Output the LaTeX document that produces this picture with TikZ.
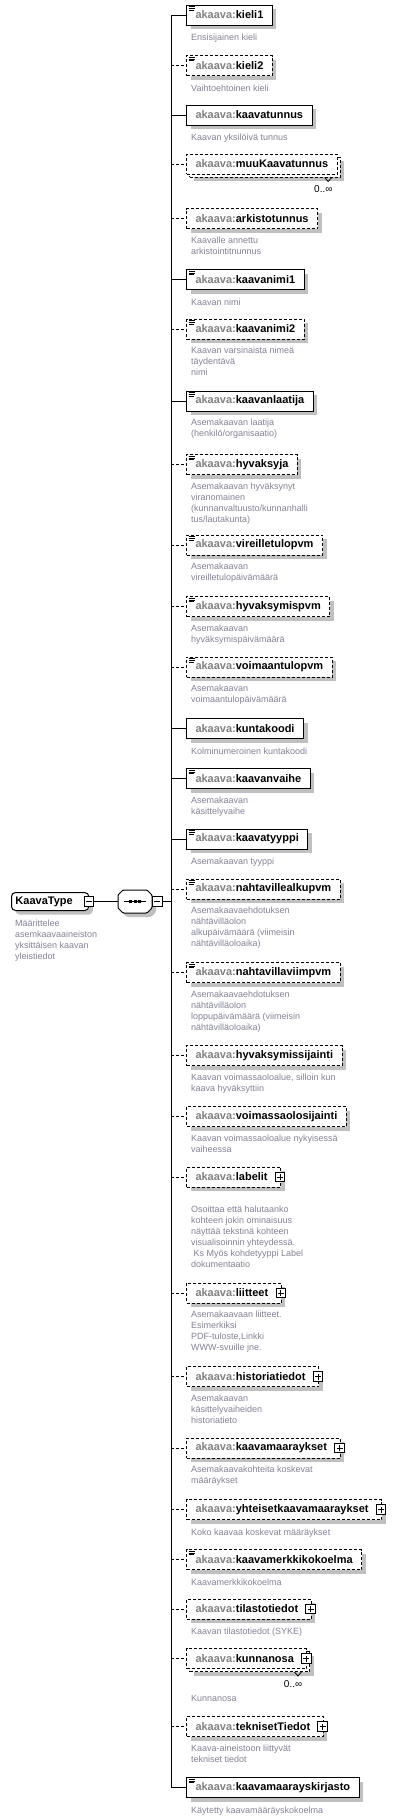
\documentclass[tikz,border=0pt]{standalone}
\usepackage{fontspec}
\setmainfont{Liberation Sans}
\usetikzlibrary{positioning, shadows}
\definecolor{nsgray}{RGB}{128,128,128}
\definecolor{descgray}{RGB}{130,130,150}
\definecolor{shadowgray}{RGB}{192,192,192}
\newcommand{\akaava}{\textcolor{nsgray}{akaava:}}

\tikzset{
  elembox/.style={draw, fill=white, anchor=west, line width=1pt,
    minimum height=20pt, inner xsep=9pt, inner ysep=0pt,
    font=\fontsize{11}{13}\selectfont\bfseries},
  shadowed/.style={drop shadow={shadow xshift=4pt, shadow yshift=-4pt,
    fill=shadowgray, opacity=1}},
  optline/.style={dash pattern=on 3pt off 2pt},
  reqbox/.style={elembox, shadowed},
  optbox/.style={elembox, shadowed, optline},
  simp/.style={path picture={
    \draw[solid, line width=0.9pt]
      ([xshift=2pt,yshift=-1.8pt]path picture bounding box.north west) -- ++(6pt,0pt)
      ([xshift=2pt,yshift=-3.6pt]path picture bounding box.north west) -- ++(6pt,0pt)
      ([xshift=2pt,yshift=-5.4pt]path picture bounding box.north west) -- ++(5pt,0pt);}},
  cplx/.style={execute at end node={\kern4pt}},
  plusbox/.style={draw, fill=white, solid, line width=1pt, minimum size=9.5pt,
    inner sep=0pt, path picture={
    \draw[line width=1pt]
      ([xshift=-3pt]path picture bounding box.center) -- ([xshift=3pt]path picture bounding box.center)
      ([yshift=-3pt]path picture bounding box.center) -- ([yshift=3pt]path picture bounding box.center);}},
  minusbox/.style={draw, fill=white, solid, line width=1pt, minimum size=9.5pt,
    inner sep=0pt, path picture={
    \draw[line width=1pt]
      ([xshift=-3pt]path picture bounding box.center) -- ([xshift=3pt]path picture bounding box.center);}},
  desc/.style={align=left, inner sep=0pt, text=descgray,
    font=\fontsize{9}{11}\selectfont, execute at begin node={\rule{0pt}{7.5pt}}},
  mult/.style={inner sep=0pt, font=\fontsize{10}{12}\selectfont},
  typebox/.style={draw, fill=white, line width=1pt, rounded corners=4pt,
    anchor=west, minimum height=18pt, inner xsep=4pt, inner ysep=0pt, shadowed,
    font=\fontsize{11}{13}\selectfont\bfseries},
  seqbox/.style={minimum width=34pt, minimum height=23pt, inner sep=0pt, outer sep=0pt,
    path picture={
    \draw[line width=1pt]
      ([xshift=-11pt]path picture bounding box.center) -- ([xshift=11pt]path picture bounding box.center);
    \fill ([xshift=-4.5pt]path picture bounding box.center) +(-1.5pt,-1.5pt) rectangle +(1.5pt,1.5pt);
    \fill (path picture bounding box.center) +(-1.5pt,-1.5pt) rectangle +(1.5pt,1.5pt);
    \fill ([xshift=4.5pt]path picture bounding box.center) +(-1.5pt,-1.5pt) rectangle +(1.5pt,1.5pt);}},
  conreq/.style={line width=1pt},
  conopt/.style={line width=1pt, optline}
}

\begin{document}
\begin{tikzpicture}[x=1pt, y=-1pt]
    \useasboundingbox (0,0) rectangle (402,1820);
    \coordinate (bus) at (171,0);

    % the type and its sequence
    \node[typebox] (kt) at (11,901.5) {KaavaType\kern12pt};
    \node[minusbox] (km) at ([xshift=-0.5pt]kt.east) {};
    \node[desc, below right=8.5pt and 4pt of kt.south west] (ktd)
        {Määrittelee\\asemkaavaaineiston\\yksittäisen kaavan\\yleistiedot};
    \draw[line width=1pt, fill=white, rounded corners=1pt, shadowed]
        (123,890) -- (147,890) -- (152,895) -- (152,908) -- (147,913)
        -- (123,913) -- (118,908) -- (118,895) -- cycle;
    \node[seqbox] (seq) at (135,901.5) {};
    \node[minusbox, anchor=west] (sm) at (seq.east) {};

    % the elements
    \node[reqbox, simp] (e1) at (186,15) {\akaava kieli1};
    \node[desc, below right=7.5pt and 5pt of e1.south west] (d1) {Ensisijainen kieli};

    \node[optbox, simp] (e2) at (186,65.5) {\akaava kieli2};
    \node[desc, below right=7.5pt and 5pt of e2.south west] (d2) {Vaihtoehtoinen kieli};

    \node[reqbox] (e3) at (186,115) {\akaava kaavatunnus};
    \node[desc, below right=7.5pt and 5pt of e3.south west] (d3) {Kaavan yksilöivä tunnus};

    \node[optbox] (e4b) at (189,167) {\phantom{\akaava muuKaavatunnus}};
    \node[elembox, optline] (e4) at (186,164) {\akaava muuKaavatunnus};
    \node[mult, below left=8pt and 8pt of e4b.south east] (m4) {0..∞};

    \node[optbox] (e5) at (186,218.5) {\akaava arkistotunnus};
    \node[desc, below right=7.5pt and 5pt of e5.south west] (d5)
        {Kaavalle annettu\\arkistointitnunnus};

    \node[reqbox, simp] (e6) at (186,279.5) {\akaava kaavanimi1};
    \node[desc, below right=7.5pt and 5pt of e6.south west] (d6) {Kaavan nimi};

    \node[optbox, simp] (e7) at (186,329) {\akaava kaavanimi2};
    \node[desc, below right=7.5pt and 5pt of e7.south west] (d7)
        {Kaavan varsinaista nimeä\\täydentävä\\nimi};

    \node[reqbox, simp] (e8) at (186,401) {\akaava kaavanlaatija};
    \node[desc, below right=7.5pt and 5pt of e8.south west] (d8)
        {Asemakaavan laatija\\(henkilö/organisaatio)};

    \node[optbox, simp] (e9) at (186,464.5) {\akaava hyvaksyja};
    \node[desc, below right=7.5pt and 5pt of e9.south west] (d9)
        {Asemakaavan hyväksynyt\\viranomainen\\(kunnanvaltuusto/kunnanhalli\\tus/lautakunta)};

    \node[optbox, simp] (e10) at (186,545) {\akaava vireilletulopvm};
    \node[desc, below right=7.5pt and 5pt of e10.south west] (d10)
        {Asemakaavan\\vireilletulopäivämäärä};

    \node[optbox, simp] (e11) at (186,606.5) {\akaava hyvaksymispvm};
    \node[desc, below right=7.5pt and 5pt of e11.south west] (d11)
        {Asemakaavan\\hyväksymispäivämäärä};

    \node[optbox, simp] (e12) at (186,667) {\akaava voimaantulopvm};
    \node[desc, below right=7.5pt and 5pt of e12.south west] (d12)
        {Asemakaavan\\voimaantulopäivämäärä};

    \node[reqbox] (e13) at (186,728.5) {\akaava kuntakoodi};
    \node[desc, below right=7.5pt and 5pt of e13.south west] (d13) {Kolminumeroinen kuntakoodi};

    \node[reqbox, simp] (e14) at (186,778.5) {\akaava kaavanvaihe};
    \node[desc, below right=7.5pt and 5pt of e14.south west] (d14)
        {Asemakaavan\\käsittelyvaihe};

    \node[reqbox, simp] (e15) at (186,839) {\akaava kaavatyyppi};
    \node[desc, below right=7.5pt and 5pt of e15.south west] (d15) {Asemakaavan tyyppi};

    \node[optbox, simp] (e16) at (186,889) {\akaava nahtavillealkupvm};
    \node[desc, below right=7.5pt and 5pt of e16.south west] (d16)
        {Asemakaavaehdotuksen\\nähtävilläolon\\alkupäivämäärä (viimeisin\\nähtävilläoloaika)};

    \node[optbox, simp] (e17) at (186,972.5) {\akaava nahtavillaviimpvm};
    \node[desc, below right=7.5pt and 5pt of e17.south west] (d17)
        {Asemakaavaehdotuksen\\nähtävilläolon\\loppupäivämäärä (viimeisin\\nähtävilläoloaika)};

    \node[optbox] (e18) at (186,1055.5) {\akaava hyvaksymissijainti};
    \node[desc, below right=7.5pt and 5pt of e18.south west] (d18)
        {Kaavan voimassaoloalue, silloin kun\\kaava hyväksyttiin};

    \node[optbox] (e19) at (186,1116.5) {\akaava voimassaolosijainti};
    \node[desc, below right=7.5pt and 5pt of e19.south west] (d19)
        {Kaavan voimassaoloalue nykyisessä\\vaiheessa};

    \node[optbox, cplx] (e20) at (186,1177) {\akaava labelit};
    \node[plusbox] (p20) at ([xshift=-1pt]e20.east) {};
    \node[desc, below right=18.5pt and 5pt of e20.south west] (d20)
        {Osoittaa että halutaanko\\kohteen jokin ominaisuus\\näyttää tekstinä kohteen\\visualisoinnin yhteydessä.\\\hspace*{2.5pt}Ks Myös kohdetyyppi Label\\dokumentaatio};

    \node[optbox, cplx] (e21) at (186,1293) {\akaava liitteet};
    \node[plusbox] (p21) at ([xshift=-1pt]e21.east) {};
    \node[desc, below right=7.5pt and 5pt of e21.south west] (d21)
        {Asemakaavaan liitteet.\\Esimerkiksi\\PDF-tuloste,Linkki\\WWW-svuille jne.};

    \node[optbox, cplx] (e22) at (186,1376.5) {\akaava historiatiedot};
    \node[plusbox] (p22) at ([xshift=-1pt]e22.east) {};
    \node[desc, below right=7.5pt and 5pt of e22.south west] (d22)
        {Asemakaavan\\käsittelyvaiheiden\\historiatieto};

    \node[optbox, cplx] (e23) at (186,1448) {\akaava kaavamaaraykset};
    \node[plusbox] (p23) at ([xshift=-1pt]e23.east) {};
    \node[desc, below right=7.5pt and 5pt of e23.south west] (d23)
        {Asemakaavakohteita koskevat\\määräykset};

    \node[optbox, cplx] (e24) at (186,1509.5) {\akaava yhteisetkaavamaaraykset};
    \node[plusbox] (p24) at ([xshift=-1pt]e24.east) {};
    \node[desc, below right=7.5pt and 5pt of e24.south west] (d24) {Koko kaavaa koskevat määräykset};

    \node[optbox, simp] (e25) at (186,1559.5) {\akaava kaavamerkkikokoelma};
    \node[desc, below right=7.5pt and 5pt of e25.south west] (d25) {Kaavamerkkikokoelma};

    \node[optbox, cplx] (e26) at (186,1609) {\akaava tilastotiedot};
    \node[plusbox] (p26) at ([xshift=-1pt]e26.east) {};
    \node[desc, below right=7.5pt and 5pt of e26.south west] (d26) {Kaavan tilastotiedot (SYKE)};

    \node[optbox, cplx] (e27b) at (189,1661.5) {\phantom{\akaava kunnanosa}};
    \node[elembox, optline, cplx] (e27) at (186,1658.5) {\akaava kunnanosa};
    \node[plusbox] (p27) at ([xshift=-1pt]e27.east) {};
    \node[mult, below left=8pt and 8pt of e27b.south east] (m27) {0..∞};
    \node[desc, below right=25pt and 5pt of e27.south west] (d27) {Kunnanosa};

    \node[optbox, cplx] (e28) at (186,1726.5) {\akaava teknisetTiedot};
    \node[plusbox] (p28) at ([xshift=-1pt]e28.east) {};
    \node[desc, below right=7.5pt and 5pt of e28.south west] (d28)
        {Kaava-aineistoon liittyvät\\tekniset tiedot};

    \node[reqbox, simp] (e29) at (186,1787.5) {\akaava kaavamaarayskirjasto};
    \node[desc, below right=7.5pt and 5pt of e29.south west] (d29) {Käytetty kaavamääräyskokoelma};

    % repeat marks under the stacked boxes
    \draw[line width=0.8pt] ([xshift=-16pt]e4b.south east) -- ([xshift=-12.5pt,yshift=-4pt]e4b.south east)
        -- ([xshift=-9pt]e4b.south east);
    \draw[line width=0.8pt] ([xshift=-16pt]e27b.south east) -- ([xshift=-12.5pt,yshift=-4pt]e27b.south east)
        -- ([xshift=-9pt]e27b.south east);

    % connectors
    \draw[conreq] (km.east) -- (seq.west);
    \draw[conreq] (sm.east) -- (bus |- sm.east);
    \draw[conreq] (bus |- e1.west) -- (bus |- e29.west);
    \draw[conreq]
        (bus |- e1.west) edge (e1)
        (bus |- e3.west) edge (e3)
        (bus |- e6.west) edge (e6)
        (bus |- e8.west) edge (e8)
        (bus |- e13.west) edge (e13)
        (bus |- e14.west) edge (e14)
        (bus |- e15.west) edge (e15)
        (bus |- e29.west) edge (e29);
    \draw[conopt]
        (bus |- e2.west) edge (e2)
        (bus |- e4.west) edge (e4)
        (bus |- e5.west) edge (e5)
        (bus |- e7.west) edge (e7)
        (bus |- e9.west) edge (e9)
        (bus |- e10.west) edge (e10)
        (bus |- e11.west) edge (e11)
        (bus |- e12.west) edge (e12)
        (bus |- e16.west) edge (e16)
        (bus |- e17.west) edge (e17)
        (bus |- e18.west) edge (e18)
        (bus |- e19.west) edge (e19)
        (bus |- e20.west) edge (e20)
        (bus |- e21.west) edge (e21)
        (bus |- e22.west) edge (e22)
        (bus |- e23.west) edge (e23)
        (bus |- e24.west) edge (e24)
        (bus |- e25.west) edge (e25)
        (bus |- e26.west) edge (e26)
        (bus |- e27.west) edge (e27)
        (bus |- e28.west) edge (e28);
\end{tikzpicture}
\end{document}
